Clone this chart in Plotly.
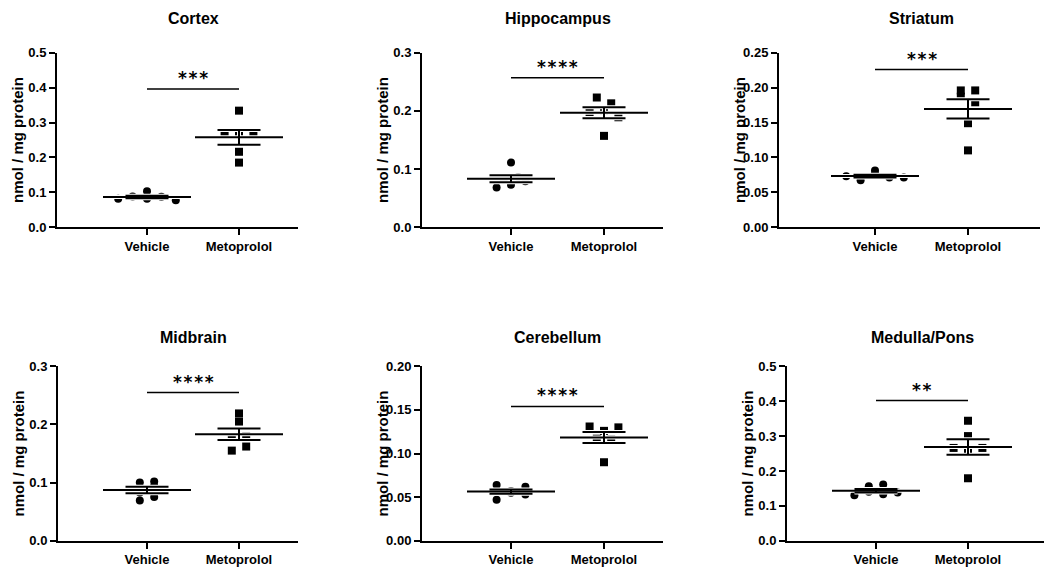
import numpy as np
import plotly.graph_objects as go

W, H = 1046, 574

# ---------------- data ----------------
groups = ["Vehicle", "Metoprolol"]
regions = ["Cortex", "Hippocampus", "Striatum", "Midbrain", "Cerebellum", "Medulla/Pons"]

cortex_vehicle = [0.081, 0.088, 0.103, 0.081, 0.087, 0.077]
cortex_metoprolol = [0.271, 0.334, 0.269, 0.216, 0.185, 0.269]
hippocampus_vehicle = [0.082, 0.068, 0.111, 0.086, 0.073, 0.079]
hippocampus_metoprolol = [0.223, 0.198, 0.213, 0.201, 0.189, 0.157]
striatum_vehicle = [0.073, 0.067, 0.076, 0.071, 0.081, 0.071]
striatum_metoprolol = [0.196, 0.187, 0.179, 0.149, 0.110, 0.196]
midbrain_vehicle = [0.100, 0.069, 0.102, 0.083, 0.094, 0.075]
midbrain_metoprolol = [0.178, 0.155, 0.219, 0.205, 0.180, 0.162]
cerebellum_vehicle = [0.064, 0.047, 0.055, 0.057, 0.062, 0.053]
cerebellum_metoprolol = [0.131, 0.117, 0.126, 0.090, 0.116, 0.130]
medulla_vehicle = [0.156, 0.130, 0.140, 0.161, 0.133, 0.138]
medulla_metoprolol = [0.266, 0.344, 0.300, 0.256, 0.179, 0.266]

significance = ["***", "****", "***", "****", "****", "**"]
sig_bar_values = [0.396, 0.257, 0.226, 0.255, 0.154, 0.402]
y_max = [0.5, 0.3, 0.25, 0.3, 0.20, 0.5]
y_step = [0.1, 0.1, 0.05, 0.1, 0.05, 0.1]
y_decimals = [1, 1, 2, 1, 2, 1]
y_label = "nmol / mg protein"

panel_data = [
    (cortex_vehicle, cortex_metoprolol),
    (hippocampus_vehicle, hippocampus_metoprolol),
    (striatum_vehicle, striatum_metoprolol),
    (midbrain_vehicle, midbrain_metoprolol),
    (cerebellum_vehicle, cerebellum_metoprolol),
    (medulla_vehicle, medulla_metoprolol),
]

# ---------------- layout geometry (pixels) ----------------
AX_LEFT = [57, 422, 779, 58, 422, 787]
CAT0 = [147, 511, 875, 147, 511, 876]
CAT1 = [239, 604, 968, 239, 604, 968]
AX_RIGHT = [298, 663, 1040, 298, 663, 1044]
ROW_TOP = [47, 369]
ROW_BOTTOM = [226, 548]
TITLE_Y = [12, 339]
YTITLE_GAP = 39

FONT = "Liberation Sans, Arial, sans-serif"
MARKER_SIZE = 8
MEAN_HALF_PX = 44
CAP_HALF_PX = 21.5
SWARM_STEP_PX = 14.4
SWARM_GAP_PX = 8.0
LINE_W = 2


def swarm(values, px_per_unit, step, min_gap):
    order = sorted(range(len(values)), key=lambda k: values[k])
    rows = []
    for k in order:
        if rows and (values[k] - values[rows[-1][0]]) * px_per_unit < min_gap:
            rows[-1].append(k)
        else:
            rows.append([k])
    off = [0.0] * len(values)
    for row in rows:
        row = sorted(row)
        n = len(row)
        for j, k in enumerate(row):
            off[k] = (j - (n - 1) / 2) * step
    return off


fig = go.Figure()
annotations = []
layout_axes = {}

for i in range(6):
    r = i // 3
    idx = i + 1
    xname = "x" if idx == 1 else f"x{idx}"
    yname = "y" if idx == 1 else f"y{idx}"
    xkey = "xaxis" if idx == 1 else f"xaxis{idx}"
    ykey = "yaxis" if idx == 1 else f"yaxis{idx}"

    sp = CAT1[i] - CAT0[i]
    x_range = [(AX_LEFT[i] - CAT0[i]) / sp, (AX_RIGHT[i] - CAT0[i]) / sp]
    x_dom = [AX_LEFT[i] / W, AX_RIGHT[i] / W]
    y_dom = [1 - ROW_BOTTOM[r] / H, 1 - ROW_TOP[r] / H]
    plot_h = ROW_BOTTOM[r] - ROW_TOP[r]
    px_per_unit = plot_h / y_max[i]

    mean_half = MEAN_HALF_PX / sp
    cap_half = CAP_HALF_PX / sp
    step = SWARM_STEP_PX / sp

    for g, vals in enumerate(panel_data[i]):
        offs = swarm(vals, px_per_unit, step, SWARM_GAP_PX)
        fig.add_trace(go.Scatter(
            x=[g + o for o in offs], y=vals, mode="markers",
            marker=dict(symbol="circle" if g == 0 else "square", size=MARKER_SIZE,
                        color="black", line=dict(width=0)),
            xaxis=xname, yaxis=yname, showlegend=False, hoverinfo="y", cliponaxis=False,
        ))
        m = float(np.mean(vals))
        s = float(np.std(vals, ddof=1) / np.sqrt(len(vals)))
        lx = [g - mean_half, g + mean_half, None, g, g, None,
              g - cap_half, g + cap_half, None, g - cap_half, g + cap_half]
        ly = [m, m, None, m - s, m + s, None, m + s, m + s, None, m - s, m - s]
        fig.add_trace(go.Scatter(x=lx, y=ly, mode="lines",
                                 line=dict(color="white", width=LINE_W + 2),
                                 xaxis=xname, yaxis=yname, showlegend=False,
                                 hoverinfo="skip", cliponaxis=False))
        fig.add_trace(go.Scatter(x=lx, y=ly, mode="lines",
                                 line=dict(color="black", width=LINE_W),
                                 xaxis=xname, yaxis=yname, showlegend=False,
                                 hoverinfo="skip", cliponaxis=False))

    # significance bar
    fig.add_trace(go.Scatter(x=[0, 1], y=[sig_bar_values[i]] * 2, mode="lines",
                             line=dict(color="black", width=1.6),
                             xaxis=xname, yaxis=yname, showlegend=False,
                             hoverinfo="skip", cliponaxis=False))
    annotations.append(dict(
        x=0.5, y=sig_bar_values[i], xref=xname, yref=yname,
        text="\u200a".join(list(significance[i])), showarrow=False,
        yanchor="bottom", yshift=-1,
        font=dict(family="DejaVu Sans", size=17, color="black", weight="bold"),
    ))

    tickvals = [round(v, 4) for v in np.arange(0, y_max[i] + 1e-9, y_step[i])]
    layout_axes[xkey] = dict(
        domain=x_dom, range=x_range, anchor=yname,
        tickmode="array", tickvals=[0, 1], ticktext=groups,
        showline=True, linecolor="black", linewidth=LINE_W,
        ticks="outside", ticklen=6, tickwidth=LINE_W, tickcolor="black",
        showgrid=False, zeroline=False, fixedrange=True,
        tickfont=dict(family=FONT, size=13, color="black", weight="bold"),
    )
    layout_axes[ykey] = dict(
        domain=y_dom, range=[0, y_max[i]], anchor=xname,
        tickmode="array", tickvals=tickvals,
        ticktext=[f"{v:.{y_decimals[i]}f}" for v in tickvals],
        showline=True, linecolor="black", linewidth=LINE_W,
        ticks="outside", ticklen=6, tickwidth=LINE_W, tickcolor="black",
        showgrid=False, zeroline=False, fixedrange=True,
        tickfont=dict(family=FONT, size=13, color="black", weight="bold"),
    )

    # panel title
    annotations.append(dict(
        x=((CAT0[i] + CAT1[i]) / 2) / W, y=1 - TITLE_Y[r] / H,
        xref="paper", yref="paper", text=f"<b>{regions[i]}</b>", showarrow=False,
        xanchor="center", yanchor="middle",
        font=dict(family=FONT, size=16, color="black"),
    ))
    # y axis title
    annotations.append(dict(
        x=(AX_LEFT[i] - YTITLE_GAP) / W, y=1 - ((ROW_TOP[r] + ROW_BOTTOM[r]) / 2) / H,
        xref="paper", yref="paper", text=f"<b>{y_label}</b>", showarrow=False,
        textangle=-90, xanchor="center", yanchor="middle",
        font=dict(family=FONT, size=15, color="black"),
    ))

fig.update_layout(
    width=W, height=H, margin=dict(l=0, r=0, t=0, b=0),
    paper_bgcolor="white", plot_bgcolor="white",
    annotations=annotations, showlegend=False,
    **layout_axes,
)

fig.write_html("out.html", config={"displayModeBar": False})
